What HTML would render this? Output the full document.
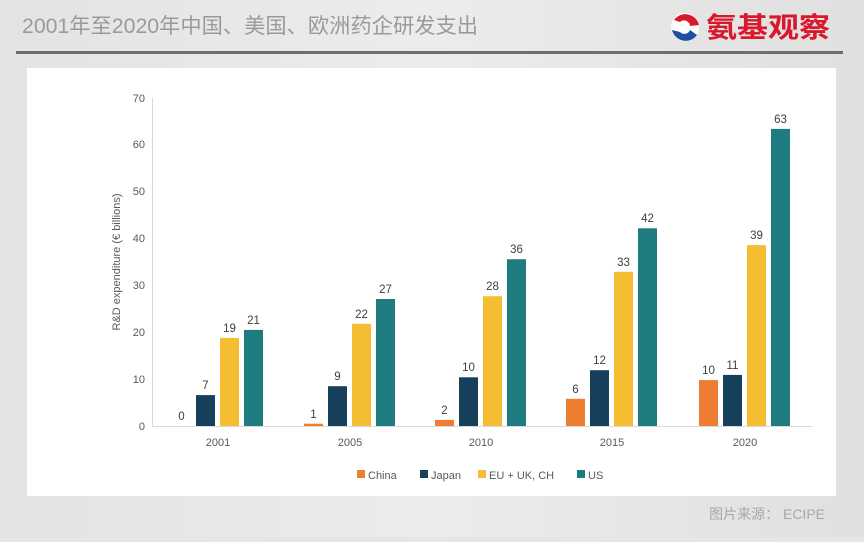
<!DOCTYPE html>
<html><head><meta charset="utf-8"><style>
body{margin:0;width:864px;height:537px;overflow:hidden;background:#e6e6e6;font-family:"Liberation Sans","Noto Sans CJK SC",sans-serif;}
</style></head><body>
<svg width="864" height="537" xmlns="http://www.w3.org/2000/svg" font-family="Liberation Sans, Noto Sans CJK SC, sans-serif">
<defs><linearGradient id="bg" x1="0" x2="1"><stop offset="0" stop-color="#e3e3e3"/><stop offset="0.5" stop-color="#ececec"/><stop offset="1" stop-color="#e0e0e0"/></linearGradient></defs>
<rect width="864" height="537" fill="url(#bg)"/>
<text x="22" y="33" font-size="21" fill="#9a9a9a" textLength="456" lengthAdjust="spacingAndGlyphs">2001年至2020年中国、美国、欧洲药企研发支出</text>
<circle cx="685" cy="27" r="14" fill="#fff"/>
<path d="M674 20 A14 14 0 0 1 699 25 L690 26 A6 6 0 0 0 680 22 Z" fill="#d9182d"/>
<path d="M672 30 A14 14 0 0 0 697 35 L690 30 A6 6 0 0 1 680 32 Z" fill="#1d4fa0"/>
<text x="706" y="37" font-size="28" font-weight="bold" fill="#d9182d" font-family="Noto Sans CJK SC, sans-serif" textLength="124" lengthAdjust="spacingAndGlyphs">氨基观察</text>
<rect x="16" y="51" width="827" height="3" fill="#6e6e6e"/>
<rect x="27" y="68" width="809" height="428" fill="#fff"/>
<g font-size="11" fill="#595959" text-anchor="end">
<text x="145" y="430">0</text><text x="145" y="383">10</text><text x="145" y="336">20</text><text x="145" y="289">30</text><text x="145" y="242">40</text><text x="145" y="195">50</text><text x="145" y="148">60</text><text x="145" y="102">70</text>
</g>
<text transform="translate(120,262) rotate(-90)" font-size="11" fill="#595959" text-anchor="middle">R&amp;D expenditure (€ billions)</text>
<line x1="152.5" y1="98" x2="152.5" y2="426" stroke="#d9d9d9"/>
<line x1="152" y1="426.5" x2="812" y2="426.5" stroke="#d9d9d9"/>
<g font-size="11" fill="#595959" text-anchor="middle">
<text x="218" y="446">2001</text><text x="350" y="446">2005</text><text x="481" y="446">2010</text><text x="612" y="446">2015</text><text x="745" y="446">2020</text>
</g>
<g fill="#ed7d31">
<rect x="304" y="423.7" width="19" height="2.3"/>
<rect x="435" y="419.9" width="19" height="6.1"/>
<rect x="566" y="398.8" width="19" height="27.2"/>
<rect x="699" y="380.1" width="19" height="45.9"/>
</g>
<g fill="#163f5c">
<rect x="196" y="395.1" width="19" height="30.9"/>
<rect x="328" y="386.2" width="19" height="39.8"/>
<rect x="459" y="377.3" width="19" height="48.7"/>
<rect x="590" y="370.2" width="19" height="55.8"/>
<rect x="723" y="374.9" width="19" height="51.1"/>
</g>
<g fill="#f5bd31">
<rect x="220" y="337.9" width="19" height="88.1"/>
<rect x="352" y="323.8" width="19" height="102.2"/>
<rect x="483" y="296.2" width="19" height="129.8"/>
<rect x="614" y="271.8" width="19" height="154.2"/>
<rect x="747" y="245.1" width="19" height="180.9"/>
</g>
<g fill="#1e7b80">
<rect x="244" y="329.9" width="19" height="96.1"/>
<rect x="376" y="299" width="19" height="127"/>
<rect x="507" y="259.2" width="19" height="166.8"/>
<rect x="638" y="228.3" width="19" height="197.7"/>
<rect x="771" y="128.9" width="19" height="297.1"/>
</g>
<g font-size="11.5" fill="#404040" text-anchor="middle">
<text x="181.5" y="420">0</text><text x="205.5" y="389">7</text><text x="229.5" y="332">19</text><text x="253.5" y="324">21</text>
<text x="313.5" y="418">1</text><text x="337.5" y="380">9</text><text x="361.5" y="318">22</text><text x="385.5" y="293">27</text>
<text x="444.5" y="414">2</text><text x="468.5" y="371">10</text><text x="492.5" y="290">28</text><text x="516.5" y="253">36</text>
<text x="575.5" y="393">6</text><text x="599.5" y="364">12</text><text x="623.5" y="266">33</text><text x="647.5" y="222">42</text>
<text x="708.5" y="374">10</text><text x="732.5" y="369">11</text><text x="756.5" y="239">39</text><text x="780.5" y="123">63</text>
</g>
<g font-size="11" fill="#595959">
<rect x="357" y="470" width="8" height="8" fill="#ed7d31"/><text x="368" y="479">China</text>
<rect x="420" y="470" width="8" height="8" fill="#163f5c"/><text x="431" y="479">Japan</text>
<rect x="478" y="470" width="8" height="8" fill="#f5bd31"/><text x="489" y="479">EU + UK, CH</text>
<rect x="577" y="470" width="8" height="8" fill="#1e7b80"/><text x="588" y="479">US</text>
</g>
<text x="825" y="519" font-size="14" fill="#a8a8a8" text-anchor="end">图片来源： ECIPE</text>
</svg>
</body></html>
